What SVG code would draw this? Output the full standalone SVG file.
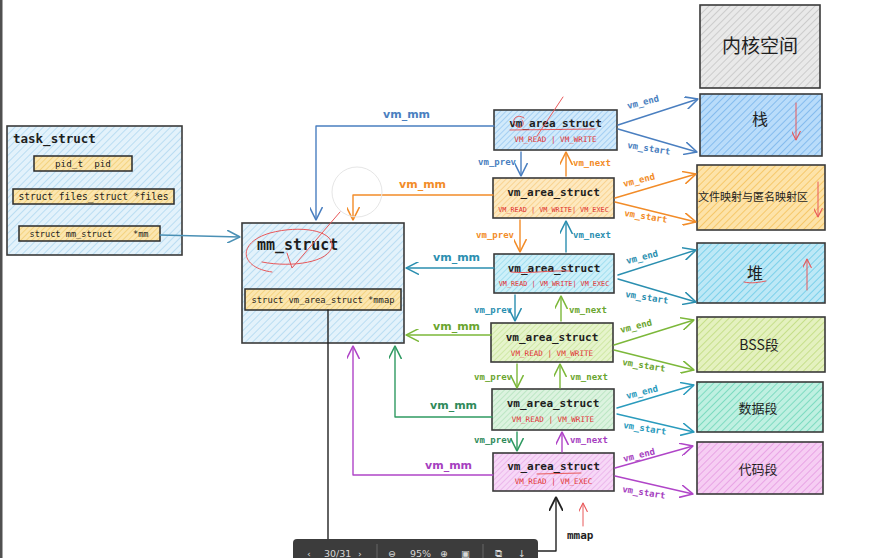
<svg xmlns="http://www.w3.org/2000/svg" width="890" height="558" viewBox="0 0 890 558">
<style>
.box{stroke:#3a3a3a;stroke-width:1.6}
.inner{stroke:#2b2b2b;stroke-width:1.5}
.mono{font-family:"DejaVu Sans Mono","Liberation Mono",monospace;fill:#1e1e1e}
.title{font-weight:bold}
.flag{font-family:"DejaVu Sans Mono","Liberation Mono",monospace;font-size:7.6px;fill:#e03131}
.flag3{font-size:6.8px}
.lbl{font-family:"DejaVu Sans Mono","Liberation Mono",monospace;font-size:9px;font-weight:bold}
.mm{font-family:"DejaVu Sans","Liberation Sans",sans-serif;font-size:11px;font-weight:bold}
.seg{font-family:"Noto Sans CJK SC","Noto Sans",sans-serif;fill:#1e1e1e;text-anchor:middle}
.c{fill:none;stroke-width:1.4;stroke-linecap:round;stroke-linejoin:round}
.red{fill:none;stroke:#e8585a;stroke-width:1;stroke-linecap:round}
</style>
<defs>
<pattern id="pBlue" patternUnits="userSpaceOnUse" width="5" height="5" patternTransform="rotate(45)"><rect width="5" height="5" fill="#e3f2fb"/><line x1="0" y1="0" x2="0" y2="5" stroke="#a9d5ef" stroke-width="1.4"/></pattern>
<pattern id="pYel" patternUnits="userSpaceOnUse" width="4" height="4" patternTransform="rotate(45)"><rect width="4" height="4" fill="#fbe6b0"/><line x1="0" y1="0" x2="0" y2="4" stroke="#f0c760" stroke-width="1.2"/></pattern>
<pattern id="pV1" patternUnits="userSpaceOnUse" width="4" height="4" patternTransform="rotate(45)"><rect width="4" height="4" fill="#d2eafb"/><line x1="0" y1="0" x2="0" y2="4" stroke="#7db9ee" stroke-width="1.1"/></pattern>
<pattern id="pV2" patternUnits="userSpaceOnUse" width="4" height="4" patternTransform="rotate(45)"><rect width="4" height="4" fill="#fde9c0"/><line x1="0" y1="0" x2="0" y2="4" stroke="#f6c26a" stroke-width="1.1"/></pattern>
<pattern id="pV3" patternUnits="userSpaceOnUse" width="4" height="4" patternTransform="rotate(45)"><rect width="4" height="4" fill="#cdf0f9"/><line x1="0" y1="0" x2="0" y2="4" stroke="#7fd2ea" stroke-width="1.1"/></pattern>
<pattern id="pV4" patternUnits="userSpaceOnUse" width="4" height="4" patternTransform="rotate(45)"><rect width="4" height="4" fill="#e6f4cc"/><line x1="0" y1="0" x2="0" y2="4" stroke="#bddf84" stroke-width="1.1"/></pattern>
<pattern id="pV5" patternUnits="userSpaceOnUse" width="4" height="4" patternTransform="rotate(45)"><rect width="4" height="4" fill="#dcf3df"/><line x1="0" y1="0" x2="0" y2="4" stroke="#a2dcae" stroke-width="1.1"/></pattern>
<pattern id="pV6" patternUnits="userSpaceOnUse" width="4" height="4" patternTransform="rotate(45)"><rect width="4" height="4" fill="#f7d8f7"/><line x1="0" y1="0" x2="0" y2="4" stroke="#e39ee4" stroke-width="1.1"/></pattern>
<pattern id="pGray" patternUnits="userSpaceOnUse" width="5" height="5" patternTransform="rotate(45)"><rect width="5" height="5" fill="#e9e9e9"/><line x1="0" y1="0" x2="0" y2="5" stroke="#bcbcbc" stroke-width="1.3"/></pattern>
<pattern id="pStack" patternUnits="userSpaceOnUse" width="5" height="5" patternTransform="rotate(45)"><rect width="5" height="5" fill="#b9dcfa"/><line x1="0" y1="0" x2="0" y2="5" stroke="#6eaeea" stroke-width="1.4"/></pattern>
<pattern id="pFile" patternUnits="userSpaceOnUse" width="5" height="5" patternTransform="rotate(45)"><rect width="5" height="5" fill="#fde3a9"/><line x1="0" y1="0" x2="0" y2="5" stroke="#f4bd4f" stroke-width="1.4"/></pattern>
<pattern id="pHeap" patternUnits="userSpaceOnUse" width="5" height="5" patternTransform="rotate(45)"><rect width="5" height="5" fill="#bde8f6"/><line x1="0" y1="0" x2="0" y2="5" stroke="#5fc6e6" stroke-width="1.4"/></pattern>
<pattern id="pBss" patternUnits="userSpaceOnUse" width="5" height="5" patternTransform="rotate(45)"><rect width="5" height="5" fill="#e4f1bf"/><line x1="0" y1="0" x2="0" y2="5" stroke="#b9d873" stroke-width="1.4"/></pattern>
<pattern id="pData" patternUnits="userSpaceOnUse" width="5" height="5" patternTransform="rotate(45)"><rect width="5" height="5" fill="#bff0e1"/><line x1="0" y1="0" x2="0" y2="5" stroke="#62d2b4" stroke-width="1.4"/></pattern>
<pattern id="pCode" patternUnits="userSpaceOnUse" width="5" height="5" patternTransform="rotate(45)"><rect width="5" height="5" fill="#f6cdf3"/><line x1="0" y1="0" x2="0" y2="5" stroke="#e292e0" stroke-width="1.4"/></pattern>
<marker id="mBlue" viewBox="0 0 10 10" refX="10" refY="5" markerWidth="13" markerHeight="13" markerUnits="userSpaceOnUse" orient="auto"><path d="M0,0 L10,5 L0,10" fill="none" stroke="#4a7fc0" stroke-width="1.2"/></marker>
<marker id="mOrange" viewBox="0 0 10 10" refX="10" refY="5" markerWidth="13" markerHeight="13" markerUnits="userSpaceOnUse" orient="auto"><path d="M0,0 L10,5 L0,10" fill="none" stroke="#f28c28" stroke-width="1.2"/></marker>
<marker id="mCyan" viewBox="0 0 10 10" refX="10" refY="5" markerWidth="13" markerHeight="13" markerUnits="userSpaceOnUse" orient="auto"><path d="M0,0 L10,5 L0,10" fill="none" stroke="#2b8fb0" stroke-width="1.2"/></marker>
<marker id="mLgreen" viewBox="0 0 10 10" refX="10" refY="5" markerWidth="13" markerHeight="13" markerUnits="userSpaceOnUse" orient="auto"><path d="M0,0 L10,5 L0,10" fill="none" stroke="#7cb83a" stroke-width="1.2"/></marker>
<marker id="mGreen" viewBox="0 0 10 10" refX="10" refY="5" markerWidth="13" markerHeight="13" markerUnits="userSpaceOnUse" orient="auto"><path d="M0,0 L10,5 L0,10" fill="none" stroke="#2f9a62" stroke-width="1.2"/></marker>
<marker id="mTeal" viewBox="0 0 10 10" refX="10" refY="5" markerWidth="13" markerHeight="13" markerUnits="userSpaceOnUse" orient="auto"><path d="M0,0 L10,5 L0,10" fill="none" stroke="#2a9bbd" stroke-width="1.2"/></marker>
<marker id="mPurple" viewBox="0 0 10 10" refX="10" refY="5" markerWidth="13" markerHeight="13" markerUnits="userSpaceOnUse" orient="auto"><path d="M0,0 L10,5 L0,10" fill="none" stroke="#b045c8" stroke-width="1.2"/></marker>
<marker id="mSteel" viewBox="0 0 10 10" refX="10" refY="5" markerWidth="13" markerHeight="13" markerUnits="userSpaceOnUse" orient="auto"><path d="M0,0 L10,5 L0,10" fill="none" stroke="#4a90b5" stroke-width="1.2"/></marker>
<marker id="mBlack" viewBox="0 0 10 10" refX="10" refY="5" markerWidth="14" markerHeight="14" markerUnits="userSpaceOnUse" orient="auto"><path d="M0,0 L10,5 L0,10" fill="none" stroke="#222" stroke-width="1.3"/></marker>
<marker id="mRed" viewBox="0 0 10 10" refX="10" refY="5" markerWidth="9" markerHeight="9" markerUnits="userSpaceOnUse" orient="auto"><path d="M0,0 L10,5 L0,10" fill="none" stroke="#e8585a" stroke-width="1.2"/></marker>
</defs>
<rect width="890" height="558" fill="#ffffff"/>
<rect x="0" y="0" width="2.5" height="558" fill="#505050"/>

<g id="task_struct">
<rect class="box" x="7" y="126" width="175" height="129" fill="url(#pBlue)" stroke="#555"/>
<text class="mono title" x="13" y="143" font-size="12.5">task_struct</text>
<rect class="inner" x="34" y="156" width="98" height="15" fill="url(#pYel)"/>
<text class="mono" x="83" y="167" font-size="9.3" text-anchor="middle" xml:space="preserve">pid_t  pid</text>
<rect class="inner" x="13" y="189" width="161" height="15" fill="url(#pYel)"/>
<text class="mono" x="93.5" y="200" font-size="9.6" text-anchor="middle">struct files_struct *files</text>
<rect class="inner" x="19" y="226" width="141" height="15" fill="url(#pYel)"/>
<text class="mono" x="89" y="237" font-size="8.6" text-anchor="middle" xml:space="preserve">struct mm_struct    *mm</text>
</g>

<g id="mm_struct">
<rect class="box" x="242" y="223" width="162" height="120" fill="url(#pBlue)" stroke="#777"/>
<text class="mono title" x="257" y="250" font-size="15">mm_struct</text>
<rect class="inner" x="245" y="289" width="156" height="21" fill="url(#pYel)"/>
<text class="mono" x="323" y="303" font-size="8.8" text-anchor="middle">struct vm_area_struct *mmap</text>
</g>

<g id="vma1">
<rect class="box" x="494" y="110" width="123" height="40" fill="url(#pV1)"/>
<text class="mono title" x="555.5" y="127" font-size="11" text-anchor="middle">vm_area_struct</text>
<text class="flag" x="555.5" y="142" text-anchor="middle">VM_READ | VM_WRITE</text>
</g>
<g id="vma2">
<rect class="box" x="493" y="178" width="121" height="40" fill="url(#pV2)"/>
<text class="mono title" x="553.5" y="196" font-size="11" text-anchor="middle">vm_area_struct</text>
<text class="flag flag3" x="553.5" y="212" text-anchor="middle">VM_READ | VM_WRITE| VM_EXEC</text>
</g>
<g id="vma3">
<rect class="box" x="494" y="254" width="120" height="39" fill="url(#pV3)"/>
<text class="mono title" x="554" y="272" font-size="11" text-anchor="middle">vm_area_struct</text>
<text class="flag flag3" x="554" y="286" text-anchor="middle">VM_READ | VM_WRITE| VM_EXEC</text>
</g>
<g id="vma4">
<rect class="box" x="491" y="323" width="122" height="39" fill="url(#pV4)"/>
<text class="mono title" x="552" y="341" font-size="11" text-anchor="middle">vm_area_struct</text>
<text class="flag" x="552" y="356" text-anchor="middle">VM_READ | VM_WRITE</text>
</g>
<g id="vma5">
<rect class="box" x="492" y="389" width="122" height="41" fill="url(#pV5)"/>
<text class="mono title" x="553" y="407" font-size="11" text-anchor="middle">vm_area_struct</text>
<text class="flag" x="553" y="422" text-anchor="middle">VM_READ | VM_WRITE</text>
</g>
<g id="vma6">
<rect class="box" x="493" y="453" width="121" height="38" fill="url(#pV6)"/>
<text class="mono title" x="553.5" y="470" font-size="11" text-anchor="middle">vm_area_struct</text>
<text class="flag" x="553.5" y="484" text-anchor="middle">VM_READ | VM_EXEC</text>
</g>

<g id="kernel">
<rect class="box" x="700" y="5" width="120" height="83" fill="url(#pGray)"/>
<text class="seg" x="760" y="53" font-size="19">内核空间</text>
</g>
<g id="stack">
<rect class="box" x="700" y="94" width="122" height="62" fill="url(#pStack)"/>
<text class="seg" x="760" y="125" font-size="16">栈</text>
</g>
<g id="mmaparea">
<rect class="box" x="697" y="165" width="128" height="65" fill="url(#pFile)"/>
<text class="seg" x="753" y="201" font-size="11">文件映射与匿名映射区</text>
</g>
<g id="heap">
<rect class="box" x="697" y="243" width="128" height="60" fill="url(#pHeap)"/>
<text class="seg" x="755" y="279" font-size="16">堆</text>
</g>
<g id="bss">
<rect class="box" x="697" y="317" width="128" height="55" fill="url(#pBss)"/>
<text class="seg" x="759" y="350" font-size="14">BSS段</text>
</g>
<g id="data">
<rect class="box" x="697" y="382" width="126" height="50" fill="url(#pData)"/>
<text class="seg" x="758" y="413" font-size="13">数据段</text>
</g>
<g id="code">
<rect class="box" x="697" y="442" width="126" height="52" fill="url(#pCode)"/>
<text class="seg" x="758" y="474" font-size="13">代码段</text>
</g>

<g id="connectors">
<path class="c" d="M160,235 L240,237" stroke="#4a90b5" marker-end="url(#mSteel)"/>
<path class="c" d="M494,126 L316,126 L316,220" stroke="#4a7fc0" marker-end="url(#mBlue)"/>
<text class="mm" x="383" y="118" fill="#4a7fc0">vm_mm</text>
<path class="c" d="M493,195 L353,195 L353,220" stroke="#f28c28" marker-end="url(#mOrange)"/>
<text class="mm" x="399" y="188" fill="#f28c28">vm_mm</text>
<path class="c" d="M494,268 L406,268" stroke="#2b8fb0" marker-end="url(#mCyan)"/>
<text class="mm" x="433" y="261" fill="#2b8fb0">vm_mm</text>
<path class="c" d="M491,335 L406,335" stroke="#7cb83a" marker-end="url(#mLgreen)"/>
<text class="mm" x="433" y="330" fill="#6aa52e">vm_mm</text>
<path class="c" d="M492,417 L395,417 L395,346" stroke="#2f9a62" marker-end="url(#mGreen)"/>
<text class="mm" x="430" y="409" fill="#2f8a5a">vm_mm</text>
<path class="c" d="M493,475 L353,475 L353,346" stroke="#b045c8" marker-end="url(#mPurple)"/>
<text class="mm" x="425" y="469" fill="#a63fbf">vm_mm</text>

<path class="c" d="M521,152 L521,176" stroke="#4a7fc0" marker-end="url(#mBlue)"/>
<text class="lbl" x="516" y="165" fill="#4a7fc0" text-anchor="end">vm_prev</text>
<path class="c" d="M566,176 L566,152" stroke="#f28c28" marker-end="url(#mOrange)"/>
<text class="lbl" x="573" y="166" fill="#f28c28">vm_next</text>
<path class="c" d="M520,220 L520,252" stroke="#f28c28" marker-end="url(#mOrange)"/>
<text class="lbl" x="514" y="238" fill="#f28c28" text-anchor="end">vm_prev</text>
<path class="c" d="M566,252 L566,221" stroke="#2b8fb0" marker-end="url(#mCyan)"/>
<text class="lbl" x="573" y="238" fill="#2b8fb0">vm_next</text>
<path class="c" d="M515,295 L515,321" stroke="#2b8fb0" marker-end="url(#mCyan)"/>
<text class="lbl" x="512" y="313" fill="#2b8fb0" text-anchor="end">vm_prev</text>
<path class="c" d="M561,321 L561,296" stroke="#7cb83a" marker-end="url(#mLgreen)"/>
<text class="lbl" x="569" y="313" fill="#6aa52e">vm_next</text>
<path class="c" d="M517,364 L517,388" stroke="#7cb83a" marker-end="url(#mLgreen)"/>
<text class="lbl" x="512" y="380" fill="#6aa52e" text-anchor="end">vm_prev</text>
<path class="c" d="M560,388 L560,364" stroke="#7cb83a" marker-end="url(#mLgreen)"/>
<text class="lbl" x="570" y="380" fill="#6aa52e">vm_next</text>
<path class="c" d="M517,432 L517,451" stroke="#2f9a62" marker-end="url(#mGreen)"/>
<text class="lbl" x="512" y="443" fill="#2f8a5a" text-anchor="end">vm_prev</text>
<path class="c" d="M562,452 L562,432" stroke="#b045c8" marker-end="url(#mPurple)"/>
<text class="lbl" x="570" y="443" fill="#a63fbf">vm_next</text>

<path class="c" d="M618,125 L698,99" stroke="#4a7fc0" marker-end="url(#mBlue)"/>
<text class="lbl" x="628" y="109" fill="#4a7fc0" transform="rotate(-14 628 109)">vm_end</text>
<path class="c" d="M618,129 L697,152" stroke="#4a7fc0" marker-end="url(#mBlue)"/>
<text class="lbl" x="627" y="148" fill="#4a7fc0" transform="rotate(9 627 148)">vm_start</text>
<path class="c" d="M615,198 L696,174" stroke="#f28c28" marker-end="url(#mOrange)"/>
<text class="lbl" x="624" y="187" fill="#f28c28" transform="rotate(-14 624 187)">vm_end</text>
<path class="c" d="M615,202 L696,222" stroke="#f28c28" marker-end="url(#mOrange)"/>
<text class="lbl" x="624" y="216" fill="#f28c28" transform="rotate(9 624 216)">vm_start</text>
<path class="c" d="M618,275 L696,250" stroke="#2b8fb0" marker-end="url(#mCyan)"/>
<text class="lbl" x="627" y="264" fill="#2b8fb0" transform="rotate(-14 627 264)">vm_end</text>
<path class="c" d="M618,279 L696,302" stroke="#2b8fb0" marker-end="url(#mCyan)"/>
<text class="lbl" x="625" y="297" fill="#2b8fb0" transform="rotate(9 625 297)">vm_start</text>
<path class="c" d="M614,345 L694,320" stroke="#7cb83a" marker-end="url(#mLgreen)"/>
<text class="lbl" x="621" y="333" fill="#6aa52e" transform="rotate(-14 621 333)">vm_end</text>
<path class="c" d="M614,350 L694,370" stroke="#7cb83a" marker-end="url(#mLgreen)"/>
<text class="lbl" x="622" y="365" fill="#6aa52e" transform="rotate(9 622 365)">vm_start</text>
<path class="c" d="M617,408 L694,385" stroke="#2a9bbd" marker-end="url(#mTeal)"/>
<text class="lbl" x="627" y="399" fill="#2a9bbd" transform="rotate(-14 627 399)">vm_end</text>
<path class="c" d="M617,414 L694,432" stroke="#2a9bbd" marker-end="url(#mTeal)"/>
<text class="lbl" x="623" y="428" fill="#2a9bbd" transform="rotate(9 623 428)">vm_start</text>
<path class="c" d="M615,468 L693,446" stroke="#b045c8" marker-end="url(#mPurple)"/>
<text class="lbl" x="624" y="462" fill="#a63fbf" transform="rotate(-14 624 462)">vm_end</text>
<path class="c" d="M615,476 L693,494" stroke="#b045c8" marker-end="url(#mPurple)"/>
<text class="lbl" x="622" y="492" fill="#a63fbf" transform="rotate(9 622 492)">vm_start</text>

<path class="c" d="M328,310 L328,558" stroke="#222" stroke-width="1.5"/>
<path class="c" d="M535,551 L556,551 L556,497" stroke="#222" stroke-width="1.6" marker-end="url(#mBlack)"/>
<text class="mono title" x="567" y="539" font-size="11">mmap</text>
</g>

<g id="annotations">
<circle cx="357" cy="192" r="25" fill="none" stroke="#e6e6e6" stroke-width="1"/>
<path class="red" d="M272,272 C240,268 236,243 270,233 C300,225 333,230 332,246 C330,262 292,268 262,262"/>
<path class="red" d="M340,212 L292,268 L287,253"/>
<path class="red" d="M524,118 C517,113 510,120 516,126 C520,130 526,125 522,120"/>
<path class="red" d="M563,97 L537,136"/>
<path class="red" d="M510,130 L595,129"/>
<path class="red" d="M511,272 C530,274 550,270 570,271"/>
<path class="red" d="M537,474 L581,473"/>
<path class="red" d="M744,282 C752,284 760,282 766,281"/>
<path class="red" stroke-width="1.3" d="M796,103 L796,140" marker-end="url(#mRed)"/>
<path class="red" stroke-width="1.3" d="M818,182 L818,217" marker-end="url(#mRed)"/>
<path class="red" stroke-width="1.3" d="M807,290 L807,259" marker-end="url(#mRed)"/>
<path class="red" stroke-width="0.9" d="M583,526 L583,503" marker-end="url(#mRed)"/>
</g>

<g id="toolbar">
<path d="M293,558 L293,543 Q293,539 297,539 L534,539 Q538,539 538,543 L538,558 Z" fill="#3c3c3c"/>
<g font-family="DejaVu Sans,Liberation Sans,sans-serif" font-size="9.5" fill="#d8d8d8">
<text x="307" y="557">‹</text>
<text x="324" y="557">30/31</text>
<text x="358" y="557">›</text>
<text x="388" y="557">⊖</text>
<text x="410" y="557">95%</text>
<text x="440" y="557">⊕</text>
<text x="461" y="557">▣</text>
<text x="495" y="557">⧉</text>
<text x="518" y="557">↓</text>
</g>
<line x1="377" y1="544" x2="377" y2="558" stroke="#666"/>
<line x1="483" y1="544" x2="483" y2="558" stroke="#666"/>
</g>
</svg>
